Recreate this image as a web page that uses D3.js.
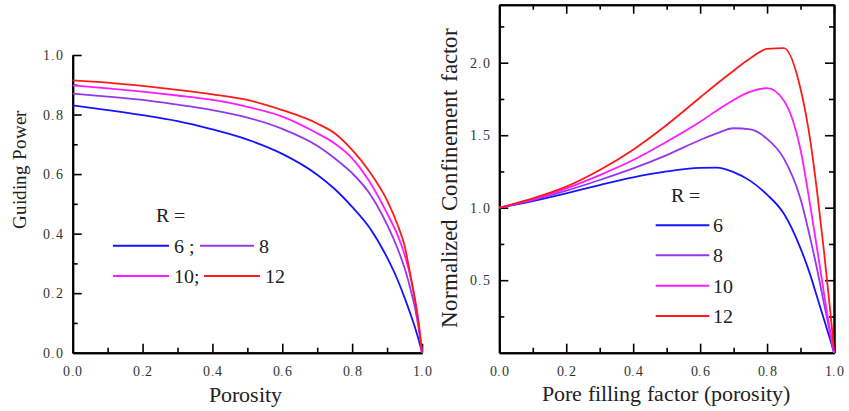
<!DOCTYPE html>
<html>
<head>
<meta charset="utf-8">
<script src="https://cdn.jsdelivr.net/npm/d3@7"></script>
<style>
  @font-face {
    font-family: "PlotSerif";
    src: local("Liberation Serif"), local("LiberationSerif"), local("LiberationSerif-Regular"),
         local("Times New Roman"), local("DejaVu Serif"), local("DejaVuSerif");
  }
  body { margin: 0; background: #fff; }
  svg text { font-family: "PlotSerif", "Liberation Serif", "Times New Roman", Times, "DejaVu Serif", serif; }
</style>
</head>
<body>
<svg id="chart" width="849" height="411"></svg>
<script>
// R values and colours shared by both panels
const rLabels = ["6", "8", "10", "12"];
const colors = ["#1414ff", "#9438f0", "#ff1cff", "#ff1a1a"];

// left panel: guiding power vs porosity
const porosity = [0, 0.1, 0.2, 0.3, 0.4, 0.5, 0.6, 0.7, 0.75, 0.8, 0.85, 0.9, 0.93, 0.95, 0.97, 0.98, 0.99, 1.0];
const gp6  = [0.831, 0.815, 0.798, 0.778, 0.750, 0.716, 0.668, 0.598, 0.550, 0.490, 0.420, 0.320, 0.245, 0.185, 0.120, 0.085, 0.045, 0.0];
const gp8  = [0.870, 0.860, 0.849, 0.833, 0.815, 0.790, 0.752, 0.695, 0.653, 0.603, 0.535, 0.430, 0.350, 0.285, 0.200, 0.150, 0.085, 0.0];
const gp10 = [0.898, 0.888, 0.877, 0.864, 0.849, 0.826, 0.793, 0.737, 0.703, 0.653, 0.574, 0.468, 0.395, 0.330, 0.240, 0.180, 0.105, 0.0];
const gp12 = [0.915, 0.907, 0.896, 0.883, 0.868, 0.849, 0.815, 0.770, 0.737, 0.681, 0.608, 0.512, 0.430, 0.360, 0.240, 0.175, 0.100, 0.0];

// right panel: normalized confinement factor vs pore filling factor
const filling = [0, 0.1, 0.2, 0.3, 0.4, 0.5, 0.6, 0.65, 0.7, 0.75, 0.8, 0.85, 0.9, 0.93, 0.95, 0.97, 0.98, 0.99, 1.0];
const cf6  = [1.0, 1.046, 1.099, 1.156, 1.209, 1.250, 1.275, 1.277, 1.245, 1.185, 1.090, 0.960, 0.720, 0.530, 0.380, 0.230, 0.155, 0.080, 0.0];
const cf8  = [1.0, 1.053, 1.117, 1.191, 1.271, 1.363, 1.467, 1.513, 1.548, 1.540, 1.475, 1.340, 1.060, 0.780, 0.570, 0.340, 0.230, 0.115, 0.0];
const cf10 = [1.0, 1.057, 1.133, 1.225, 1.329, 1.455, 1.593, 1.670, 1.743, 1.800, 1.825, 1.740, 1.400, 1.000, 0.710, 0.410, 0.265, 0.130, 0.0];
const cf12 = [1.0, 1.064, 1.145, 1.260, 1.400, 1.570, 1.760, 1.855, 1.945, 2.030, 2.095, 2.100, 1.820, 1.450, 1.100, 0.700, 0.480, 0.260, 0.020];

const svg = d3.select("#chart");
const noLabel = () => "";

function styleAxis(g) {
    g.attr("font-family", null).attr("font-size", null);
    g.select(".domain").attr("stroke", "#000").attr("stroke-width", 2);
    g.selectAll(".tick line").attr("stroke", "#000").attr("stroke-width", 1.6);
    g.selectAll(".tick text")
        .attr("fill", "#333")
        .style("font-size", "14px")
        .style("letter-spacing", "0.6px");
}

function drawTicks(axisFn, scale, major, minor, fmt, pad, transform) {
    svg.append("g")
        .attr("transform", transform)
        .call(axisFn(scale).tickValues(minor).tickSize(-5).tickSizeOuter(0).tickFormat(noLabel))
        .call(styleAxis)
        .call(g => g.selectAll(".tick text").remove());
    const g = svg.append("g")
        .attr("transform", transform)
        .call(axisFn(scale).tickValues(major).tickSize(-9).tickSizeOuter(0)
            .tickPadding(pad).tickFormat(fmt))
        .call(styleAxis);
    if (fmt === noLabel) g.selectAll(".tick text").remove();
}

function addText(x, y, size, str, anchor, rotate) {
    const t = svg.append("text")
        .attr("fill", "#222")
        .style("font-size", size + "px")
        .attr("text-anchor", anchor || "start")
        .text(str);
    if (rotate) t.attr("transform", `translate(${x},${y}) rotate(-90)`);
    else t.attr("x", x).attr("y", y);
    return t;
}

const line = (xs, sx, sy) => d3.line()
    .x((d, i) => sx(xs[i]))
    .y(d => sy(d))
    .curve(d3.curveMonotoneX);

// ---------- left panel ----------
const x1 = d3.scaleLinear().domain([0, 1]).range([72.7, 422]);
const y1 = d3.scaleLinear().domain([0, 1]).range([352.7, 55]);

const xMajor = [0, 0.2, 0.4, 0.6, 0.8, 1.0];
const xMinor = [0.1, 0.3, 0.5, 0.7, 0.9];

drawTicks(d3.axisBottom, x1, xMajor, xMinor, d3.format(".1f"), 13, "translate(0,352.7)");
drawTicks(d3.axisLeft, y1, xMajor, xMinor, d3.format(".1f"), 9.5, "translate(72.7,0)");

[gp6, gp8, gp10, gp12].forEach((s, i) => {
    svg.append("path")
        .datum(s)
        .attr("fill", "none")
        .attr("stroke", colors[i])
        .attr("stroke-width", 1.8)
        .attr("d", line(porosity, x1, y1));
});

addText(245, 402, 22, "Porosity", "middle");
addText(26, 170, 19, "Guiding Power", "middle", true);

// left legend (two rows)
addText(156, 222, 20, "R =");
const leftLegend = [
    { x0: 113, x1: 169, tx: 174, y: 245.7, label: "6 ;" },
    { x0: 200, x1: 254, tx: 259, y: 245.7, label: "8" },
    { x0: 113, x1: 169, tx: 174, y: 276, label: "10;" },
    { x0: 204, x1: 260, tx: 265, y: 276, label: "12" }
];
leftLegend.forEach((d, i) => {
    svg.append("line").attr("x1", d.x0).attr("x2", d.x1).attr("y1", d.y).attr("y2", d.y)
        .attr("stroke", colors[i]).attr("stroke-width", 2);
    addText(d.tx, d.y + 6.8, 20, d.label);
});

// ---------- right panel ----------
const x2 = d3.scaleLinear().domain([0, 1]).range([499.3, 834]);
const y2 = d3.scaleLinear().domain([0, 2.4]).range([352.7, 4.7]);

const yMajor2 = [0.5, 1.0, 1.5, 2.0];
const yMinor2 = [0.25, 0.75, 1.25, 1.75, 2.25];

drawTicks(d3.axisBottom, x2, xMajor, xMinor, d3.format(".1f"), 13, "translate(0,352.7)");
drawTicks(d3.axisTop, x2, xMajor, xMinor, noLabel, 3, `translate(0,${y2(2.4)})`);
drawTicks(d3.axisLeft, y2, yMajor2, yMinor2, d3.format(".1f"), 9, "translate(499.3,0)");
drawTicks(d3.axisRight, y2, yMajor2, yMinor2, noLabel, 3, "translate(834,0)");

[cf6, cf8, cf10, cf12].forEach((s, i) => {
    svg.append("path")
        .datum(s)
        .attr("fill", "none")
        .attr("stroke", colors[i])
        .attr("stroke-width", 1.8)
        .attr("d", line(filling, x2, y2));
});

addText(666, 401, 22, "Pore filling factor (porosity)", "middle");
addText(457, 178, 22.5, "Normalized Confinement factor", "middle", true)
    .style("word-spacing", "2px");

// right legend (one column)
addText(671, 202, 20, "R =");
const rightRows = [225.3, 255.3, 285.7, 316];
rLabels.forEach((lab, i) => {
    svg.append("line").attr("x1", 655.7).attr("x2", 709.3)
        .attr("y1", rightRows[i]).attr("y2", rightRows[i])
        .attr("stroke", colors[i]).attr("stroke-width", 2);
    addText(713.3, rightRows[i] + 6.8, 20, lab);
});
</script>
</body>
</html>
